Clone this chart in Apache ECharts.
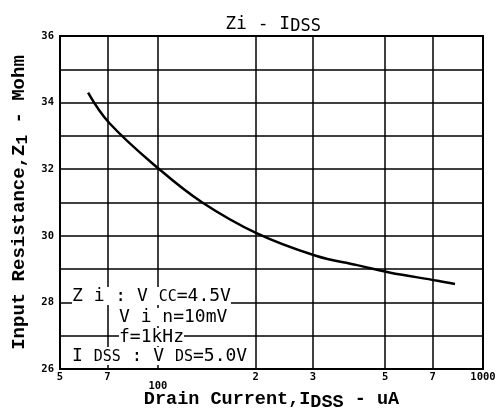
<!DOCTYPE html>
<html>
<head>
<meta charset="utf-8">
<script src="https://cdn.jsdelivr.net/npm/echarts@6/dist/echarts.min.js"></script>
<style>
  html, body { margin: 0; padding: 0; background: #fff; }
  #chart { width: 498px; height: 411px; }
</style>
</head>
<body>
<div id="chart"></div>
<script>
// drain current (uA) vs input resistance (Mohm)
const idss = [61, 71, 101, 137, 201, 306, 410, 515, 725, 820];
const zi = [34.3, 33.38, 32.0, 31.0, 30.08, 29.4, 29.12, 28.9, 28.65, 28.55];

const xTicks = [50, 70, 100, 200, 300, 500, 700, 1000];
const xTickLabels = ['5', '7', '{l|100}', '2', '3', '5', '7', '1000'];

const chart = echarts.init(document.getElementById('chart'));

const mono = '"DejaVu Sans Mono", monospace';
const courier = '"Liberation Mono", "DejaVu Sans Mono", monospace';

const option = {
  animation: false,
  backgroundColor: '#fff',
  title: {
    text: 'Zi - I{s|DSS}',
    left: 268,
    top: 9,
    textAlign: 'center',
    textStyle: {
      fontFamily: mono,
      fontSize: 18,
      fontWeight: 'normal',
      color: '#000',
      rich: {
        s: { fontFamily: mono, fontSize: 17, color: '#000', padding: [4, 0, 0, 0] }
      }
    }
  },
  grid: {
    left: 60,
    right: 15,
    top: 36,
    bottom: 42,
    outerBoundsMode: 'none',
    containLabel: false,
    show: true,
    borderColor: '#000',
    borderWidth: 2
  },
  xAxis: {
    type: 'log',
    logBase: 10,
    min: 50,
    max: 1000,
    name: 'Drain Current,I{s|DSS} - uA',
    nameLocation: 'middle',
    nameGap: 17,
    nameMoveOverlap: false,
    nameTextStyle: {
      fontFamily: courier,
      fontSize: 18.5,
      fontWeight: 'bold',
      color: '#000',
      rich: {
        s: { fontFamily: courier, fontSize: 18.5, fontWeight: 'bold', color: '#000', padding: [7, 0, 0, 0] }
      }
    },
    axisLine: { show: true, lineStyle: { color: '#000', width: 2 } },
    axisTick: { show: false, customValues: xTicks },
    axisLabel: {
      customValues: xTicks,
      margin: 3,
      color: '#000',
      fontFamily: mono,
      fontWeight: 'bold',
      fontSize: 10.5,
      formatter: function (v) {
        const i = xTicks.indexOf(Math.round(v));
        return i >= 0 ? xTickLabels[i] : '';
      },
      rich: {
        l: { fontFamily: mono, fontWeight: 'bold', fontSize: 10.5, color: '#000', padding: [9, 0, 0, 0] }
      }
    },
    splitLine: { show: true, lineStyle: { color: '#000', width: 1.5 } },
    minorSplitLine: { show: false }
  },
  yAxis: {
    type: 'value',
    min: 26,
    max: 36,
    interval: 1,
    name: 'Input Resistance,Z{s|1} - Mohm',
    nameLocation: 'middle',
    nameGap: 29,
    nameMoveOverlap: false,
    nameRotate: 90,
    nameTextStyle: {
      fontFamily: courier,
      fontSize: 19,
      fontWeight: 'bold',
      color: '#000',
      rich: {
        s: { fontFamily: courier, fontSize: 16, fontWeight: 'bold', color: '#000', padding: [7, 0, 0, 0] }
      }
    },
    axisLine: { show: true, lineStyle: { color: '#000', width: 2 } },
    axisTick: { show: false },
    axisLabel: {
      margin: 6,
      color: '#000',
      fontFamily: mono,
      fontWeight: 'bold',
      fontSize: 10.5,
      formatter: function (v) { return v % 2 === 0 ? String(v) : ''; }
    },
    splitLine: { show: true, lineStyle: { color: '#000', width: 1.5 } }
  },
  series: [{
    type: 'line',
    data: idss.map((x, i) => [x, zi[i]]),
    smooth: 0.4,
    showSymbol: false,
    lineStyle: { color: '#000', width: 2.5 }
  }],
  graphic: [
    {
      type: 'text', left: 72, top: 287, z: 100,
      style: {
        text: 'Z i : V {s|CC}=4.5V',
        font: '18px ' + mono, fill: '#000', backgroundColor: '#fff',
        rich: { s: { font: '15px ' + mono, fill: '#000', padding: [3, 0, 0, 0] } }
      }
    },
    {
      type: 'text', left: 119, top: 308, z: 100,
      style: { text: 'V i n=10mV', font: '18px ' + mono, fill: '#000', backgroundColor: '#fff' }
    },
    {
      type: 'text', left: 119, top: 328, z: 100,
      style: { text: 'f=1kHz', font: '18px ' + mono, fill: '#000', backgroundColor: '#fff' }
    },
    {
      type: 'text', left: 72, top: 347, z: 100,
      style: {
        text: 'I {s|DSS} : V {s|DS}=5.0V',
        font: '18px ' + mono, fill: '#000', backgroundColor: '#fff',
        rich: { s: { font: '15px ' + mono, fill: '#000', padding: [3, 0, 0, 0] } }
      }
    }
  ]
};

chart.setOption(option);
</script>
</body>
</html>
